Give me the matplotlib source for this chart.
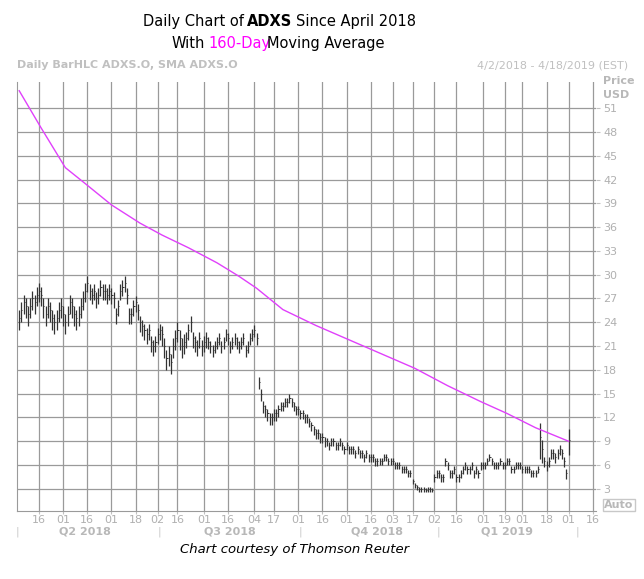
import numpy as np
import matplotlib.pyplot as plt

# daily closes, ADXS, April 2018 - April 2019
closes = [
    24.5, 25.5, 26.5, 26, 25, 26, 27, 26.5, 27.5, 28,
    27.5, 26, 25, 26, 25.5, 24.5, 24, 24.5, 25.5, 26, 25,
    24, 25, 26.5, 26, 25, 24.5, 25, 26, 27, 28,
    29, 28, 27.5, 28, 27, 27.5, 28.5, 28, 28, 27.5, 28, 27.5, 27,
    25, 26, 28, 28.5, 29, 27.5, 25, 25, 26, 26.5, 25.5,
    24, 23.5, 23, 22.5, 23, 21.5, 21, 21.5, 22.5, 23,
    22.5, 21, 19.5, 20, 19, 21, 22, 23, 22, 21, 21.5,
    22, 23, 24, 22, 21.5, 21, 22, 21, 21.5, 22,
    21.5, 21, 20.5, 21, 21.5, 22, 21, 21.5, 22.5, 22, 21, 21.5,
    22, 21.5, 21, 21.5, 22, 20.5, 21, 22, 22.5, 23, 22,
    16.5, 15, 13.5, 13, 12.5, 12, 12, 12.5, 12.5, 13,
    13.5, 13.5, 14, 14, 14.5, 14, 13.5, 13, 13,
    12.5, 12.5, 12, 12, 11.5, 11, 10.5, 10, 10, 9.5, 9.5, 9,
    9, 8.5, 9, 9, 8.5, 8.5, 9, 8.5, 8, 8.5, 8, 8,
    8, 7.5, 8, 7.5, 7.5, 7, 7.5, 7, 7, 7, 6.5, 6.5,
    6.5, 6.5, 7, 7, 6.5, 6.5, 6.5,
    6, 6, 6, 5.5, 5.5, 5.5, 5, 5,
    4, 3.5, 3.2, 3, 3, 3, 2.9, 3, 3, 2.9,
    4.5, 5, 5, 4.5, 4.5, 6.5, 6, 5, 5, 5.5, 4.5, 4.5, 5, 5.5, 6, 5.5, 5.5, 6, 5, 5.5, 5, 6,
    6, 6, 6.5, 7, 6.5, 6, 6, 6, 6.5, 6, 6, 6.5, 6.5, 5.5, 5.5, 6, 6, 6, 5.5,
    5.5, 5.5, 5.5, 5, 5, 5, 5.5, 9.5, 8, 6.5, 6, 6.5, 7.5, 7.5, 7, 7.5, 8, 7.5, 6.5, 5,
    9.2,
]
# high-low span of each bar, same grouping as closes
spans = (
    [2.5] * 10 + [2.5] * 11 + [2.5] * 10 + [2.0] * 13 + [2.0] * 11 + [2.0] * 10
    + [2.5] * 11 + [2.0] * 10 + [1.5] * 12 + [1.5] * 11 + [1.5] * 10 + [1.2] * 9
    + [1.2] * 12 + [1.0] * 12 + [1.0] * 12 + [0.9] * 7 + [0.8] * 8 + [0.6] * 10
    + [1.0] * 22 + [0.9] * 19 + [0.8] * 7 + [4.5, 3.0] + [1.2] * 11 + [3.2]
)

# 160-day SMA, sampled at bar indices
sma_idx = [0, 10, 21, 30, 42, 55, 65, 77, 90, 100, 108, 120, 135, 150, 165, 180, 195, 210, 222, 235, 250]
sma_vals = [53.2, 48.5, 43.5, 41.5, 38.8, 36.5, 35.0, 33.4, 31.5, 29.8, 28.3, 25.6, 23.6, 21.8, 20.0, 18.2, 16.0, 14.0, 12.5, 10.7, 9.0]

# tick positions (bar index) and labels
tick_pos = [9, 20, 31, 42, 53, 63, 72, 84, 95, 107, 116, 127, 138, 149, 160, 170, 179, 189, 199, 211, 221, 229, 240, 250, 261]
tick_lab = ['16', '01', '16', '01', '18', '02', '16', '01', '16', '04', '17', '01', '16', '01', '16',
            '03', '17', '02', '16', '01', '19', '01', '18', '01', '16']
quarters = ['Q2 2018', 'Q3 2018', 'Q4 2018', 'Q1 2019']
quarter_pos = [30, 96, 163, 222]
quarter_sep = [-1, 64, 128, 191, 254]
yticks = list(range(3, 52, 3))

n = min(len(closes), len(spans))
x = np.arange(n)
c = np.array(closes[:n])
s = np.array(spans[:n])

fig = plt.figure(figsize=(6.44, 5.79), dpi=100)
ax = fig.add_axes([17 / 644, 1 - 511 / 579, (596 - 17) / 644, (511 - 82) / 579])

ax.set_xlim(-1, 262.5)
ax.set_ylim(0.2, 54.3)
ax.set_xticks(tick_pos)
ax.set_xticklabels(tick_lab)
ax.set_yticks(yticks)
ax.yaxis.tick_right()
ax.grid(True, color='#9a9a9a', linewidth=0.9)
ax.set_axisbelow(True)
ax.tick_params(axis='both', colors='#c0c0c0', labelcolor='#b0b0b0', labelsize=8, length=3)
ax.tick_params(axis='x', length=2, pad=1)
ax.tick_params(axis='y', pad=2)
for sp in ax.spines.values():
    sp.set_visible(False)
ax.spines['left'].set_visible(True)
ax.spines['left'].set_color('#9a9a9a')
ax.spines['bottom'].set_visible(True)
ax.spines['bottom'].set_color('#9a9a9a')

ax.vlines(x, c - s * 0.6, c + s * 0.4, color='#333333', linewidth=0.9)
ax.hlines(c, x, x + 0.5, color='#333333', linewidth=0.7)
ax.plot(sma_idx, sma_vals, color='#e040fb', linewidth=1)

xt = ax.get_xaxis_transform()
for p, q in zip(quarter_pos, quarters):
    ax.text(p, -0.048, q, transform=xt, ha='center', va='center',
            fontsize=8, fontweight='bold', color='#b8b8b8')
for p in quarter_sep:
    ax.text(p, -0.048, '|', transform=xt, ha='center', va='center',
            fontsize=8, color='#c8c8c8')

fig.text(244 / 644, 1 - 26 / 579, 'Daily Chart of', ha='right', fontsize=10.5)
fig.text(247 / 644, 1 - 26 / 579, 'ADXS', ha='left', fontsize=10.5, fontweight='bold')
fig.text(296 / 644, 1 - 26 / 579, 'Since April 2018', ha='left', fontsize=10.5)
fig.text(205 / 644, 1 - 48 / 579, 'With', ha='right', fontsize=10.5)
fig.text(208 / 644, 1 - 48 / 579, '160-Day', ha='left', fontsize=10.5, color='#ff00ff')
fig.text(267 / 644, 1 - 48 / 579, 'Moving Average', ha='left', fontsize=10.5)
fig.text(17 / 644, 1 - 68 / 579, 'Daily BarHLC ADXS.O, SMA ADXS.O', fontsize=8, fontweight='bold', color='#c0c0c0')
fig.text(628 / 644, 1 - 68 / 579, '4/2/2018 - 4/18/2019 (EST)', ha='right', fontsize=8, color='#c0c0c0')
fig.text(603 / 644, 1 - 84 / 579, 'Price', fontsize=8, fontweight='bold', color='#b8b8b8')
fig.text(603 / 644, 1 - 98 / 579, 'USD', fontsize=8, fontweight='bold', color='#b8b8b8')
fig.text(604 / 644, 1 - 508 / 579, 'Auto', fontsize=8, fontweight='bold', color='#b8b8b8',
         bbox=dict(facecolor='white', edgecolor='#c8c8c8', pad=1))
fig.text(295 / 644, 1 - 553 / 579, 'Chart courtesy of Thomson Reuter', ha='center', fontsize=9.5, style='italic')

fig.savefig('out.png', dpi=100)
